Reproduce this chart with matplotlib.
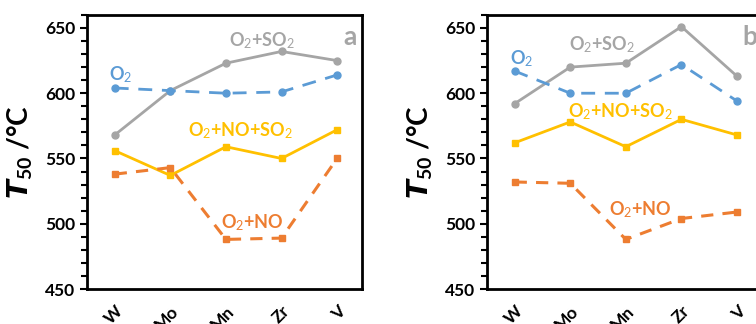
import matplotlib
matplotlib.use('Agg')
import matplotlib.pyplot as plt
from matplotlib.ticker import MultipleLocator

plt.rcParams['font.family'] = ['Lato', 'DejaVu Sans']
plt.rcParams['mathtext.fontset'] = 'custom'
plt.rcParams['mathtext.rm'] = 'Lato'
plt.rcParams['mathtext.bf'] = 'Lato:bold'
plt.rcParams['mathtext.it'] = 'Lato:italic'

metals = ['W', 'Mo', 'Mn', 'Zr', 'V']

# panel a
a_o2_so2 = [568, 602, 623, 632, 625]
a_o2 = [604, 602, 600, 601, 614]
a_no_so2 = [556, 537, 559, 550, 572]
a_no = [538, 543, 488, 489, 550]

# panel b
b_o2_so2 = [592, 620, 623, 651, 613]
b_o2 = [617, 600, 600, 622, 594]
b_no_so2 = [562, 578, 559, 580, 568]
b_no = [532, 531, 488, 504, 509]

gray = '#A5A5A5'
blue = '#5B9BD5'
yellow = '#FFC000'
orange = '#ED7D31'

fig = plt.figure(figsize=(7.56, 3.24), dpi=100)
ax_a = fig.add_axes([0.115, 0.108, 0.364, 0.846])
ax_b = fig.add_axes([0.644, 0.108, 0.364, 0.846])


def draw_panel(ax, s_so2, s_o2, s_noso2, s_no, letter, labels):
    x = range(len(metals))
    ax.plot(x, s_so2, color=gray, lw=2, marker='o', ms=5)
    ax.plot(x, s_o2, color=blue, lw=2, ls=(0, (5, 3.5)), marker='o', ms=5)
    ax.plot(x, s_noso2, color=yellow, lw=2, marker='s', ms=5)
    ax.plot(x, s_no, color=orange, lw=2.2, ls=(0, (4, 3)), marker='s', ms=5)

    ax.set_xlim(-0.5, 4.45)
    ax.set_ylim(450, 660)
    ax.set_yticks([450, 500, 550, 600, 650])
    ax.yaxis.set_minor_locator(MultipleLocator(10))
    ax.set_xticks(list(x))
    ax.set_xticklabels(metals, rotation=45, ha='right', rotation_mode='anchor',
                       fontsize=12.5, fontweight='bold')
    for lab in ax.get_yticklabels():
        lab.set_fontweight('bold')
        lab.set_fontsize(12.5)
    ax.tick_params(axis='y', which='major', length=5, width=1.5, direction='out')
    ax.tick_params(axis='y', which='minor', length=4, width=1.5, direction='out')
    ax.tick_params(axis='x', length=0, pad=10)
    for sp in ax.spines.values():
        sp.set_linewidth(2)
    ax.set_ylabel(r'$\mathbfit{T}_{\mathbf{50}}$ /°C', fontsize=20, fontweight='bold')
    ax.yaxis.set_label_coords(-0.19, 0.5)

    for (txt, xx, yy, col) in labels:
        ax.text(xx, yy, txt, color=col, fontsize=13, fontweight='bold',
                ha='center', va='center')
    ax.text(letter[1], letter[2], letter[0], color=gray, fontsize=19,
            fontweight='bold', ha=letter[3], va='center')


draw_panel(ax_a, a_o2_so2, a_o2, a_no_so2, a_no, ('a', 4.36, 643, 'right'),
           [(r'O$_2$+SO$_2$', 2.65, 640.5, gray),
            (r'O$_2$', 0.11, 614.5, blue),
            (r'O$_2$+NO+SO$_2$', 2.27, 571.5, yellow),
            (r'O$_2$+NO', 2.47, 501, orange)])
draw_panel(ax_b, b_o2_so2, b_o2, b_no_so2, b_no, ('b', 4.09, 643, 'left'),
           [(r'O$_2$+SO$_2$', 1.57, 637.5, gray),
            (r'O$_2$', 0.13, 626.8, blue),
            (r'O$_2$+NO+SO$_2$', 1.9, 586, yellow),
            (r'O$_2$+NO', 2.26, 511, orange)])

fig.savefig('out.png', dpi=100)
